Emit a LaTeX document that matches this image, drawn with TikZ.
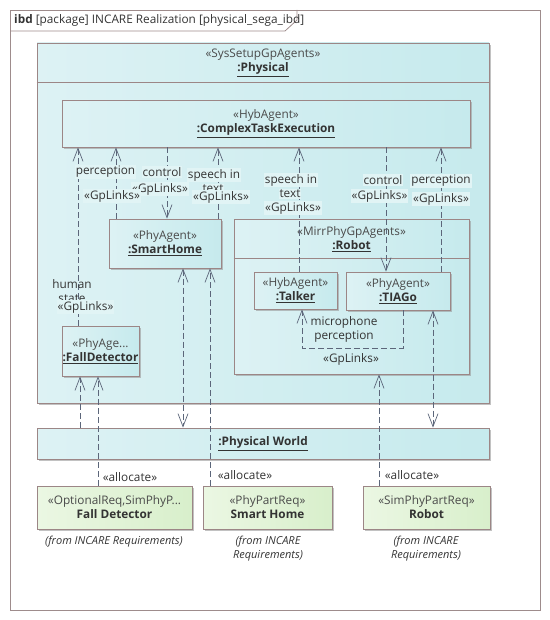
\documentclass[tikz,border=0pt]{standalone}
\usepackage{fontspec}
\setmainfont{Open Sans}
\usetikzlibrary{arrows.meta,shadows}
\definecolor{framec}{HTML}{9E8C8C}
\definecolor{bxline}{HTML}{9C8686}
\definecolor{cyanL}{HTML}{DDF2F4}
\definecolor{cyanR}{HTML}{C6EAED}
\definecolor{grnL}{HTML}{EBF7E3}
\definecolor{grnR}{HTML}{D8EFCB}
\definecolor{connc}{HTML}{5C667A}
\definecolor{txt}{HTML}{333333}
\definecolor{stereo}{HTML}{4A4A4A}
\definecolor{lblbg}{HTML}{E1F4F5}
\tikzset{
  fnt/.style={font=\fontsize{11.8}{14}\selectfont, text=txt},
  part/.style={draw=bxline, line width=0.8pt, left color=cyanL, right color=cyanR,
    drop shadow={shadow xshift=2pt, shadow yshift=-2pt, fill=black!40, opacity=0.6},
    fnt, align=center, inner sep=0pt},
  reqbox/.style={draw=bxline, line width=0.8pt, left color=grnL, right color=grnR,
    drop shadow={shadow xshift=2pt, shadow yshift=-2pt, fill=black!40, opacity=0.6},
    fnt, align=center, inner sep=0pt},
  conn/.style={draw=connc, line width=0.7pt, dash pattern=on 6pt off 3pt},
  arr/.style={-{Straight Barb[length=13pt,width=10pt,line width=0.7pt]}},
  barr/.style={{Straight Barb[length=13pt,width=10pt,line width=0.7pt]}-{Straight Barb[length=13pt,width=10pt,line width=0.7pt]}},
  lbl/.style={fnt, fill=lblbg, inner sep=1pt, align=center},
  lblw/.style={fnt, fill=white, inner sep=1pt},
  plain/.style={fnt, inner sep=1pt, align=center},
  fromtxt/.style={font=\fontsize{11}{14}\selectfont\itshape, text=txt, align=center},
}
\newcommand{\stt}[1]{\textcolor{stereo}{#1}}
\newcommand{\nm}[1]{\underline{\textbf{#1}}}
\begin{document}
\begin{tikzpicture}[x=1pt,y=-1pt]
\useasboundingbox (0,0) rectangle (549,620);
% frame
\draw[framec, line width=0.8pt] (10,10) rectangle (540,610);
\draw[framec, line width=0.8pt] (10,31) -- (285,31) -- (297,20) -- (297,10);
\node[fnt, anchor=west, inner sep=0pt] (title) at (14,20) {\textbf{ibd} [package] INCARE Realization [physical\_sega\_ibd]};

% Physical
\node[part, minimum width=452pt, minimum height=360pt] (phys) at (263,223) {};
\draw[bxline, line width=0.8pt] (phys.west |- 0,82) -- (phys.east |- 0,82);
\node[plain] (physlbl) at (263,63) {\stt{«SysSetupGpAgents»}\\\nm{:Physical}};

% Physical World
\node[part, minimum width=452pt, minimum height=31pt] (pw) at (263,443.5) {\nm{:Physical World}};

% Requirements
\node[reqbox, minimum width=155pt, minimum height=43pt] (rfd) at (114.5,507.5) {\stt{«OptionalReq,SimPhyP...}\\\textbf{Fall Detector}};
\node[reqbox, minimum width=129pt, minimum height=43pt] (rsh) at (267.5,507.5) {\stt{«PhyPartReq»}\\\textbf{Smart Home}};
\node[reqbox, minimum width=127pt, minimum height=43pt] (rrb) at (426.5,507.5) {\stt{«SimPhyPartReq»}\\\textbf{Robot}};
\node[fromtxt] (rfdfrom) at (114,542) {(from INCARE Requirements)};
\node[fromtxt] (rshfrom) at (268,549) {(from INCARE\\Requirements)};
\node[fromtxt] (rrbfrom) at (426,549) {(from INCARE\\Requirements)};

% inner parts
\node[part, minimum width=408pt, minimum height=47pt] (cte) at (266,123.5) {\stt{«HybAgent»}\\\nm{:ComplexTaskExecution}};
\node[part, minimum width=112pt, minimum height=49pt] (sh) at (165,243.5) {\stt{«PhyAgent»}\\\nm{:SmartHome}};
\node[part, minimum width=235pt, minimum height=155pt] (robot) at (351.5,296.5) {};
\draw[bxline, line width=0.8pt] (robot.west |- 0,258) -- (robot.east |- 0,258);
\node[plain] (robotlbl) at (351.5,239) {\stt{«MirrPhyGpAgents»}\\\nm{:Robot}};
\node[part, minimum width=83pt, minimum height=37pt] (talker) at (295.5,290.5) {\stt{«HybAgent»}\\\nm{:Talker}};
\node[part, minimum width=104pt, minimum height=38pt] (tiago) at (398,291) {\stt{«PhyAgent»}\\\nm{:TIAGo}};
\node[part, minimum width=77pt, minimum height=50pt] (fd) at (100.5,351) {\stt{«PhyAge...}\\\nm{:FallDetector}};

% connectors
\draw[conn, arr] (fd.north -| 78,0) -- (cte.south -| 78,0);
\draw[conn, arr] (sh.north -| 116,0) -- (cte.south -| 116,0);
\draw[conn, arr] (cte.south -| 167,0) -- (sh.north -| 167,0);
\draw[conn, arr] (sh.north -| 218,0) -- (cte.south -| 218,0);
\draw[conn, arr] (talker.north -| 299,0) -- (cte.south -| 299,0);
\draw[conn, arr] (cte.south -| 386,0) -- (tiago.north -| 386,0);
\draw[conn, arr] (tiago.north -| 441,0) -- (cte.south -| 441,0);
\draw[conn, arr] (tiago.south -| 403,0) -- (403,348) -- (302,348) -- (talker.south -| 302,0);
\draw[conn, arr] (pw.north -| 80,0) -- (fd.south -| 80,0);
\draw[conn, arr] (rfd.north -| 98,0) -- (fd.south -| 98,0);
\draw[conn, barr] (sh.south -| 183,0) -- (pw.north -| 183,0);
\draw[conn, arr] (rsh.north -| 210,0) -- (sh.south -| 210,0);
\draw[conn, arr] (rrb.north -| 379,0) -- (robot.south -| 379,0);
\draw[conn, barr] (tiago.south -| 433,0) -- (pw.north -| 433,0);

% connector labels
\node[plain] (l1a) at (72,291) {human\\state};
\node[lbl] (l1b) at (85.5,307) {«GpLinks»};
\node[lbl] (l3a) at (162,172) {control};
\node[lbl] (l3b) at (160,189) {«GpLinks»};
\node[lbl] (l2a) at (105.5,172) {perception};
\node[lbl] (l2b) at (112,196) {«GpLinks»};
\node[lbl] (l4a) at (214,175) {speech in};
\node[lbl] (l4c) at (213,189) {text};
\node[lbl] (l4b) at (221,197) {«GpLinks»};
\node[lbl] (l5a) at (291,180) {speech in};
\node[lbl] (l5c) at (290,194) {text};
\node[lbl] (l5b) at (293,208) {«GpLinks»};
\node[lbl] (l6a) at (383,180) {control};
\node[lbl] (l6b) at (379.5,196) {«GpLinks»};
\node[lbl] (l7a) at (441,181) {perception};
\node[lbl] (l7b) at (441,199) {«GpLinks»};
\node[plain] (l8a) at (344,329.5) {microphone\\perception};
\node[plain] (l8b) at (351,359) {«GpLinks»};
\node[lblw] (l10) at (130,477) {«allocate»};
\node[lblw] (l12) at (245,475) {«allocate»};
\node[lblw] (l13) at (412,475) {«allocate»};
\end{tikzpicture}
\end{document}
